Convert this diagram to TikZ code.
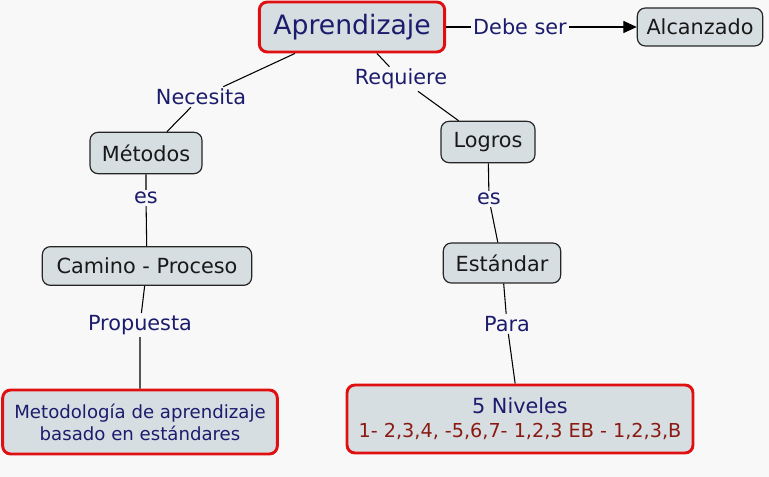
\documentclass[tikz,border=0pt]{standalone}
\usepackage{fontspec}
\setmainfont{DejaVu Sans}
\usepackage{tikz}
\usetikzlibrary{arrows.meta, positioning}
\definecolor{cmapFill}{HTML}{D6DEE2}
\definecolor{cmapRed}{HTML}{E01010}
\definecolor{cmapNavy}{HTML}{1C1C6C}
\definecolor{cmapWine}{HTML}{8A1A12}
\definecolor{cmapPaper}{HTML}{F8F8F8}

\begin{document}
\begin{tikzpicture}[x=0.75pt, y=-0.75pt,
  concept/.style={fill=cmapFill, draw=black!85, line width=0.9pt, rounded corners=6pt, align=center, font=\fontsize{15.6}{18}\selectfont, text=black!90},
  keyconcept/.style={concept, draw=cmapRed, line width=2.2pt, text=cmapNavy},
  linkword/.style={inner sep=1.5pt, text=cmapNavy, font=\fontsize{15.6}{18}\selectfont}
]
  \fill[cmapPaper] (0,0) rectangle (769,477);
  \useasboundingbox (0,0) rectangle (769,477);

  % concepts
  \node[keyconcept, minimum width=139pt, minimum height=37.5pt, font=\fontsize{20}{24}\selectfont] (apr) at (352,27) {Aprendizaje};
  \node[concept, minimum width=94pt, minimum height=28.5pt] (alc) at (700,27) {Alcanzado};
  \node[concept, minimum width=84pt, minimum height=31pt] (met) at (146,153) {Métodos};
  \node[concept, minimum width=157pt, minimum height=29pt] (cam) at (147,266) {Camino - Proceso};
  \node[keyconcept, minimum width=206pt, minimum height=48pt, font=\fontsize{13.6}{16.5}\selectfont] (meto) at (140,422) {Metodología de aprendizaje\\basado en estándares};
  \node[concept, minimum width=70.5pt, minimum height=31pt] (log) at (488,142) {Logros};
  \node[concept, minimum width=88pt, minimum height=30pt] (est) at (502,263) {Estándar};
  \node[keyconcept, minimum width=259.5pt, minimum height=51pt] (niv) at (520,419) {%
    {\fontsize{15.6}{16.5}\selectfont 5 Niveles}\\
    {\fontsize{14.4}{16.5}\selectfont\color{cmapWine}1- 2,3,4, -5,6,7- 1,2,3 EB - 1,2,3,B}};

  % linking words
  \node[linkword] (debe) at (520,27) {Debe ser};
  \node[linkword] (nec) at (201,97) {Necesita};
  \node[linkword] (req) at (401,79) {Requiere};
  \node[linkword] (es1) at (146,198) {es};
  \node[linkword] (es2) at (489,199) {es};
  \node[linkword] (prop) at (140,325) {Propuesta};
  \node[linkword] (para) at (507,324) {Para};

  % connectors
  \draw[line width=0.8pt] (apr) -- (debe);
  \draw[line width=0.8pt, -{Triangle[length=10pt, width=9pt]}] (debe) -- (alc);
  \draw[line width=0.8pt] (apr) -- (nec) -- (met);
  \draw[line width=0.8pt] (apr) -- (req) -- (log);
  \draw[line width=0.8pt] (met) -- (es1) -- (cam);
  \draw[line width=0.8pt] (cam) -- (prop) -- (meto);
  \draw[line width=0.8pt] (log) -- (es2) -- (est);
  \draw[line width=0.8pt] (est) -- (para) -- (niv);
\end{tikzpicture}
\end{document}
